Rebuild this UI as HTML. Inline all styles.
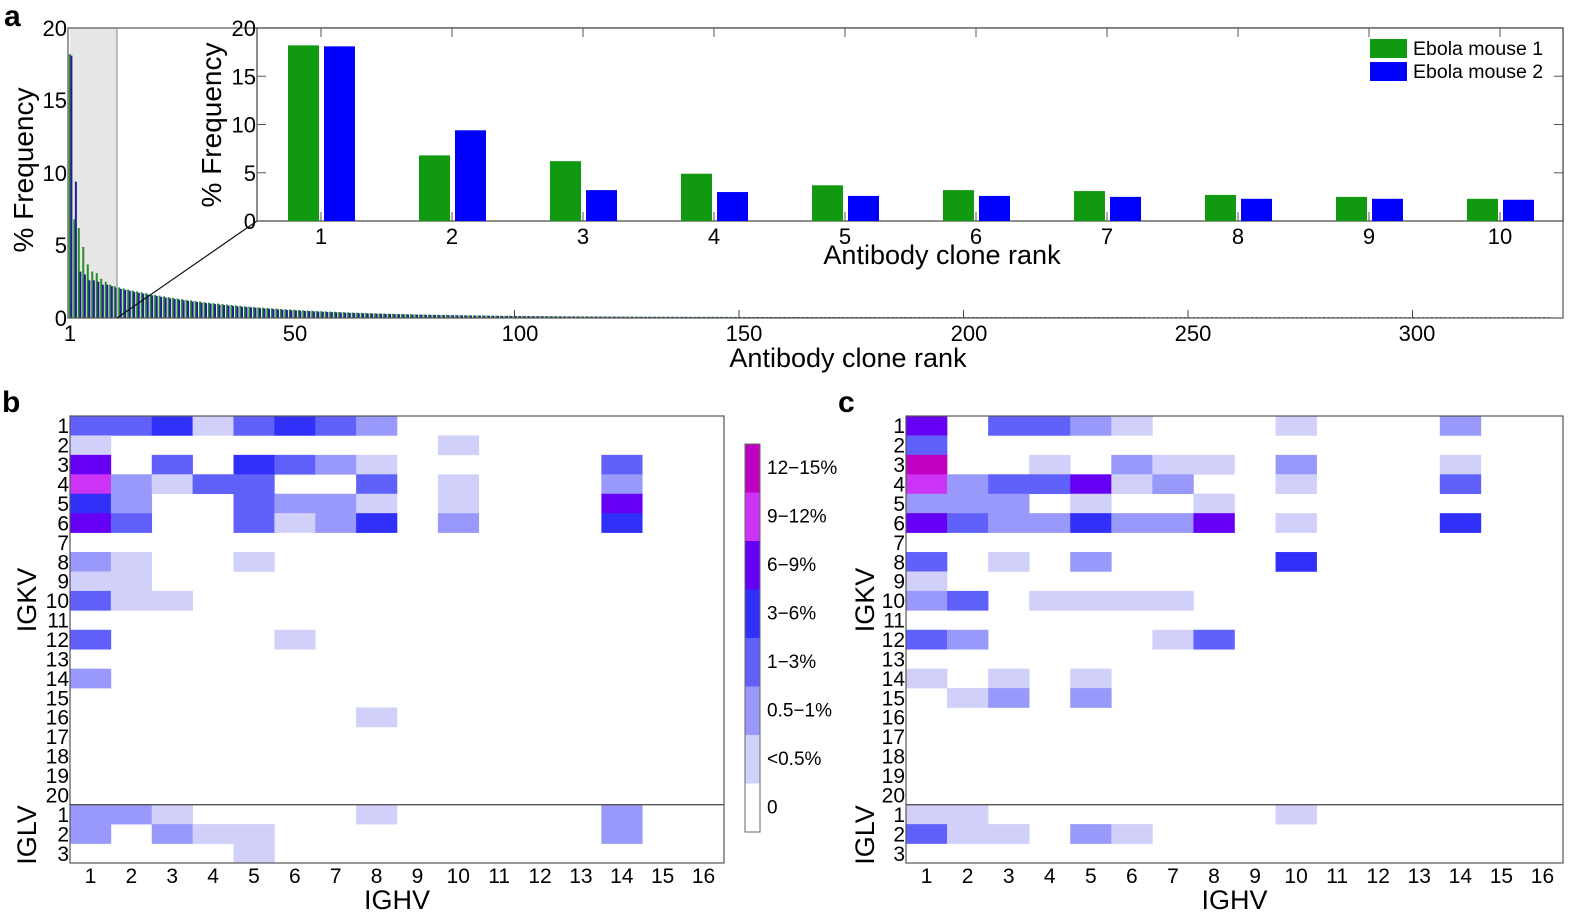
<!DOCTYPE html>
<html><head><meta charset="utf-8"><style>
html,body{margin:0;padding:0;background:#fff}
svg{display:block;font-family:"Liberation Sans",Arial,sans-serif}
</style></head><body>
<svg id="s" width="1575" height="922" xmlns="http://www.w3.org/2000/svg">
<text x="4" y="26" font-size="30" font-weight="bold">a</text>
<text x="2" y="412" font-size="30" font-weight="bold">b</text>
<text x="838" y="412" font-size="30" font-weight="bold">c</text>
<rect x="70" y="28" width="47" height="290" fill="#e6e6e6"/>
<g id="main"></g>
<rect x="68" y="28" width="1495" height="290" fill="none" stroke="#555" stroke-width="1.2"/>
<line x1="117" y1="28" x2="117" y2="318" stroke="#999" stroke-width="1.2"/>
<line x1="117" y1="318" x2="257" y2="221" stroke="#111" stroke-width="1.2"/>
<rect x="257" y="28" width="1306" height="193" fill="#fff" stroke="#444" stroke-width="1.2"/>
<g id="inset"></g>
<g font-size="22" text-anchor="end">
<text x="67" y="36">20</text><text x="67" y="108">15</text><text x="67" y="181">10</text><text x="67" y="253">5</text><text x="67" y="326">0</text>
</g>
<text transform="translate(33,170) rotate(-90)" font-size="28" text-anchor="middle">% Frequency</text>
<g font-size="22" text-anchor="middle">
<text x="70" y="341">1</text><text x="295" y="341">50</text><text x="520" y="341">100</text><text x="744" y="341">150</text><text x="969" y="341">200</text><text x="1193" y="341">250</text><text x="1417" y="341">300</text>
</g>
<text x="848" y="367" font-size="27" text-anchor="middle">Antibody clone rank</text>
<g font-size="22" text-anchor="end" id="iy"></g>
<text transform="translate(221,125) rotate(-90)" font-size="28" text-anchor="middle">% Frequency</text>
<g font-size="22" text-anchor="middle" id="ix"></g>
<text x="942" y="264" font-size="27" text-anchor="middle">Antibody clone rank</text>
<rect x="1370" y="39" width="37" height="19" fill="#119911"/>
<rect x="1370" y="62" width="37" height="19" fill="#0000ff"/>
<text x="1413" y="55" font-size="19.5">Ebola mouse 1</text>
<text x="1413" y="78" font-size="19.5">Ebola mouse 2</text>
<g id="hb"></g><g id="hc"></g><g id="cb"></g>
</svg>
<script>
var NS="http://www.w3.org/2000/svg",S=document.getElementById('s');
function el(p,t,a,txt){var e=document.createElementNS(NS,t);for(var k in a)e.setAttribute(k,a[k]);if(txt!=null)e.textContent=txt;document.getElementById(p).appendChild(e);return e;}
var g=[18.2,6.8,6.2,4.9,3.7,3.2,3.1,2.7,2.5,2.3],b=[18.1,9.4,3.2,3.0,2.6,2.6,2.5,2.3,2.3,2.2];
for(var r=1;r<=330;r++){
 var gv,bv;
 if(r<=10){gv=g[r-1];bv=b[r-1];}else{gv=2.2*Math.exp(-(r-10)/28)+0.06;bv=2.1*Math.exp(-(r-10)/27)+0.06;if(r>240)gv=0;}
 var x=70+(r-1)*4.49;
 if(gv>0)el('main','rect',{x:x-1.2,y:318-gv*14.5,width:2,height:gv*14.5,fill:'#2a8f2a'});
 el('main','rect',{x:x+0.4,y:318-bv*14.5,width:2,height:bv*14.5,fill:'#1e1e96'});
}
for(var t of [50,100,150,200,250,300]){var x=70+(t-1)*4.49;el('main','line',{x1:x,y1:318,x2:x,y2:310,stroke:'#444'});}
for(var i=0;i<10;i++){
 var cx=321+i*131;
 el('inset','rect',{x:cx-33,y:221-g[i]*9.65,width:31,height:g[i]*9.65,fill:'#119911'});
 el('inset','rect',{x:cx+3,y:221-b[i]*9.65,width:31,height:b[i]*9.65,fill:'#0000ff'});
 el('inset','line',{x1:cx,y1:221,x2:cx,y2:212,stroke:'#555'});
 el('inset','line',{x1:cx,y1:28,x2:cx,y2:37,stroke:'#555'});
 el('ix','text',{x:cx,y:244},String(i+1));
}
for(var v of [0,5,10,15,20]){var y=221-v*9.65;el('iy','text',{x:256,y:y+8},String(v));if(v>0&&v<20){el('inset','line',{x1:257,y1:y,x2:266,y2:y,stroke:'#555'});el('inset','line',{x1:1563,y1:y,x2:1554,y2:y,stroke:'#555'});}}
var C=['#ffffff','#d0d0fa','#9999fb','#6060fa','#3030fa','#6600f5','#cc33f5','#c000c0'];
var B={1:{1:3,2:3,3:4,4:1,5:3,6:4,7:3,8:2},2:{1:1,10:1},3:{1:5,3:3,5:4,6:3,7:2,8:1,14:3},4:{1:6,2:2,3:1,4:3,5:3,8:3,10:1,14:2},5:{1:4,2:2,5:3,6:2,7:2,8:1,10:1,14:5},6:{1:5,2:3,5:3,6:1,7:2,8:4,10:2,14:4},8:{1:2,2:1,5:1},9:{1:1,2:1},10:{1:3,2:1,3:1},12:{1:3,6:1},14:{1:2},16:{8:1},21:{1:2,2:2,3:1,8:1,14:2},22:{1:2,3:2,4:1,5:1,14:2},23:{5:1}};
var Cc={1:{1:5,3:3,4:3,5:2,6:1,10:1,14:2},2:{1:3},3:{1:7,4:1,6:2,7:1,8:1,10:2,14:1},4:{1:6,2:2,3:3,4:3,5:5,6:1,7:2,10:1,14:3},5:{1:2,2:2,3:2,5:1,8:1},6:{1:5,2:3,3:2,4:2,5:4,6:2,7:2,8:5,10:1,14:4},8:{1:3,3:1,5:2,10:4},9:{1:1},10:{1:2,2:3,4:1,5:1,6:1,7:1},12:{1:3,2:2,7:1,8:3},14:{1:1,3:1,5:1},15:{2:1,3:2,5:2},21:{1:1,2:1,10:1},22:{1:3,2:1,3:1,5:2,6:1}};
function heat(id,L,R,D,lx){
 var top=416,bot=863,rh=(bot-top)/23,cw=(R-L)/16;
 for(var r in D)for(var c in D[r]){el(id,'rect',{x:L+(c-1)*cw,y:top+(r-1)*rh,width:cw+0.3,height:rh+0.3,fill:C[D[r][c]]});}
 el(id,'rect',{x:L,y:top,width:R-L,height:bot-top,fill:'none',stroke:'#555','stroke-width':1.2});
 el(id,'line',{x1:L,y1:top+20*rh,x2:R,y2:top+20*rh,stroke:'#555','stroke-width':1.4});
 for(var i=1;i<=23;i++){var lab=i<=20?i:i-20;el(id,'text',{x:L-1,y:top+(i-0.5)*rh+7.5,'font-size':21,'text-anchor':'end'},String(lab));}
 for(var j=1;j<=16;j++)el(id,'text',{x:L+(j-0.5)*cw,y:883,'font-size':21,'text-anchor':'middle'},String(j));
 el(id,'text',{x:(L+R)/2,y:909,'font-size':27,'text-anchor':'middle'},'IGHV');
 el(id,'text',{transform:'translate('+lx+',600) rotate(-90)','font-size':27,'text-anchor':'middle'},'IGKV');
 el(id,'text',{transform:'translate('+lx+',835) rotate(-90)','font-size':27,'text-anchor':'middle'},'IGLV');
}
heat('hb',70,724,B,36);heat('hc',906,1563,Cc,874);
var labs=['12\u221215%','9\u221212%','6\u22129%','3\u22126%','1\u22123%','0.5\u22121%','<0.5%','0'];
for(var i=0;i<8;i++){var y=444+i*48.5;el('cb','rect',{x:745,y:y,width:15,height:48.5,fill:C[7-i]});el('cb','text',{x:767,y:y+30,'font-size':19},labs[i]);}
el('cb','rect',{x:745,y:444,width:15,height:388,fill:'none',stroke:'#666'});
</script>
</body></html>
